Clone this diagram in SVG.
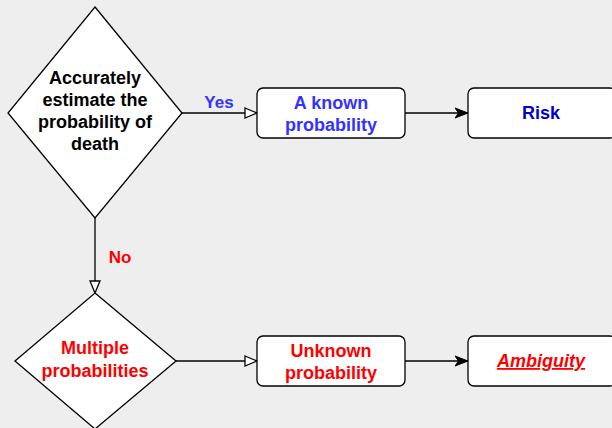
<svg xmlns="http://www.w3.org/2000/svg" width="612" height="428" viewBox="0 0 612 428">
<defs>
<style>
.shape{fill:#fff;stroke:#000;stroke-width:1.3}
.edge{fill:none;stroke:#000;stroke-width:1.3}
text{font-family:"Liberation Sans",Arial,sans-serif;font-weight:bold;text-anchor:middle}
.t{font-size:18px}
.lbl{font-size:17px}
.blue{fill:#3333FF}
.dblue{fill:#0000CC}
.red{fill:#FF0000}
.black{fill:#000}
</style>
<marker id="open" viewBox="0 0 14 12" refX="13" refY="6" markerWidth="14" markerHeight="12" markerUnits="userSpaceOnUse" orient="auto">
<path d="M1,1 L13,6 L1,11 Z" fill="#fff" stroke="#000" stroke-width="1.3"/>
</marker>
<marker id="solid" viewBox="0 0 14 12" refX="13" refY="6" markerWidth="14" markerHeight="12" markerUnits="userSpaceOnUse" orient="auto">
<path d="M0,1 L13,6 L0,11 L3.5,6 Z" fill="#000" stroke="#000" stroke-width="1"/>
</marker>
</defs>
<rect x="0" y="0" width="612" height="428" fill="#EEEEEE"/>
<g id="connectors">
<path class="edge" d="M182,113 L257,113" marker-end="url(#open)"/>
<path class="edge" d="M405,113 L468,113" marker-end="url(#solid)"/>
<path class="edge" d="M95,218 L95,293" marker-end="url(#open)"/>
<path class="edge" d="M176,361 L257,361" marker-end="url(#open)"/>
<path class="edge" d="M405,361 L468,361" marker-end="url(#solid)"/>
<text class="lbl blue" x="219" y="108">Yes</text>
<text class="lbl red" x="120" y="263">No</text>
</g>
<g id="decision1">
<path class="shape" d="M95,7 L182,113 L95,218 L8,113 Z"/>
<text class="t black" x="95" y="84">Accurately</text>
<text class="t black" x="95" y="106">estimate the</text>
<text class="t black" x="95" y="128">probability of</text>
<text class="t black" x="95" y="150">death</text>
</g>
<g id="known">
<rect class="shape" x="257" y="88" width="148" height="50" rx="6"/>
<text class="t blue" x="331" y="109">A known</text>
<text class="t blue" x="331" y="131">probability</text>
</g>
<g id="risk">
<rect class="shape" x="468" y="88" width="148" height="50" rx="6"/>
<text class="t dblue" x="541" y="119">Risk</text>
</g>
<g id="decision2">
<path class="shape" d="M95,293 L176,361 L95,429 L15,361 Z"/>
<text class="t red" x="95" y="354">Multiple</text>
<text class="t red" x="95" y="377">probabilities</text>
</g>
<g id="unknown">
<rect class="shape" x="257" y="336" width="148" height="50" rx="6"/>
<text class="t red" x="331" y="357">Unknown</text>
<text class="t red" x="331" y="379">probability</text>
</g>
<g id="ambiguity">
<rect class="shape" x="468" y="336" width="148" height="50" rx="6"/>
<text class="t red" x="541" y="367" font-style="italic" text-decoration="underline">Ambiguity</text>
</g>
</svg>
